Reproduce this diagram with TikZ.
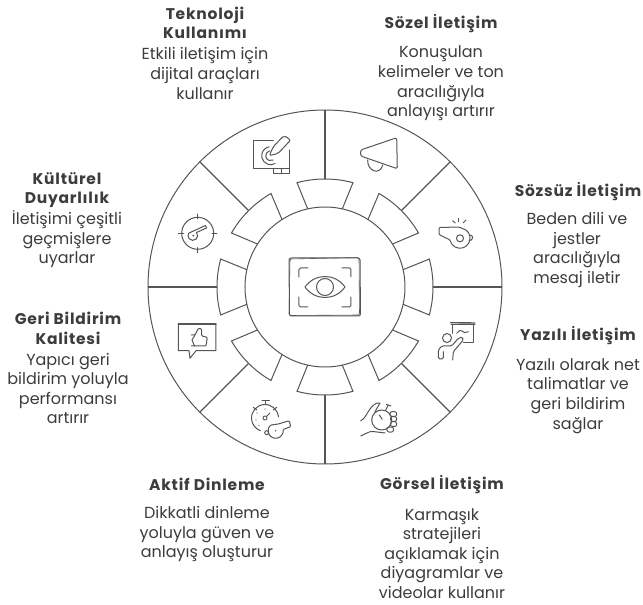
\documentclass[tikz,border=0pt]{standalone}
\usepackage{fontspec}
\usetikzlibrary{calc}
\setmainfont{Poppins}
\newfontfamily\headfont[LetterSpace=5,BoldFont={Poppins Bold}]{Poppins}
\definecolor{inkline}{HTML}{555555}
\definecolor{inktext}{HTML}{3C3C3C}

\begin{document}
\begin{tikzpicture}[x=1pt,y=1pt]
            \tikzset{heading/.style = {align=center,yshift=-1.5pt,text=inktext,font=\headfont\fontsize{15.5}{19.5}\selectfont\bfseries}}
            \tikzset{body/.style = {align=center,yshift=-1.5pt,text=inktext,font=\fontsize{16}{19.6}\selectfont}}
            \tikzset{ring/.style = {draw=inkline,line width=1pt}}
            \tikzset{edge/.style = {draw=inkline,line width=1.1pt}}
            \tikzset{icon/.style = {draw=inkline,line width=1pt,line cap=round,line join=round}}
            \useasboundingbox (-325,-318) rectangle (318,287);

            \node[heading] (toolshead) at (-120,265.5) {Teknoloji\\Kullanımı};
            \node[body] (toolsbody) at (-120,215) {Etkili iletişim için\\dijital araçları\\kullanır};
            \node[heading] (verbalhead) at (116,265) {Sözel İletişim};
            \node[body] (verbalbody) at (116,205) {Konuşulan\\kelimeler ve ton\\aracılığıyla\\anlayışı artırır};
            \node[heading] (nonverbalhead) at (253,97) {Sözsüz İletişim};
            \node[body] (nonverbalbody) at (252,38.5) {Beden dili ve\\jestler\\aracılığıyla\\mesaj iletir};
            \node[heading] (writtenhead) at (253,-47) {Yazılı İletişim};
            \node[body] (writtenbody) at (253,-107.5) {Yazılı olarak net\\talimatlar ve\\geri bildirim\\sağlar};
            \node[heading] (visualhead) at (117,-196) {Görsel İletişim};
            \node[body] (visualbody) at (117,-265) {Karmaşık\\stratejileri\\açıklamak için\\diyagramlar ve\\videolar kullanır};
            \node[heading] (activehead) at (-118,-196) {Aktif Dinleme};
            \node[body] (activebody) at (-118,-245.5) {Dikkatli dinleme\\yoluyla güven ve\\anlayış oluşturur};
            \node[heading] (feedbackhead) at (-257,-40) {Geri Bildirim\\Kalitesi};
            \node[body] (feedbackbody) at (-257,-100) {Yapıcı geri\\bildirim yoluyla\\performansı\\artırır};
            \node[heading] (culturehead) at (-258,98.5) {Kültürel\\Duyarlılık};
            \node[body] (culturebody) at (-258,49) {İletişimi çeşitli\\geçmişlere\\uyarlar};

            % wheel
            \draw[ring] (0,0) circle (177);
            \draw[ring] (0,0) circle (80);

            \coordinate (top1) at (90:108);   \coordinate (top2) at (90:177);
            \coordinate (upr1) at (45:108);   \coordinate (upr2) at (45:177);
            \coordinate (rgt1) at (0:108);    \coordinate (rgt2) at (0:177);
            \coordinate (lwr1) at (-45:108);  \coordinate (lwr2) at (-45:177);
            \coordinate (bot1) at (-90:108);  \coordinate (bot2) at (-90:177);
            \coordinate (lwl1) at (-135:108); \coordinate (lwl2) at (-135:177);
            \coordinate (lft1) at (180:108);  \coordinate (lft2) at (180:177);
            \coordinate (upl1) at (135:108);  \coordinate (upl2) at (135:177);

            \draw[edge] (top1) to (top2);
            \draw[edge] (upr1) to (upr2);
            \draw[edge] (rgt1) to (rgt2);
            \draw[edge] (lwr1) to (lwr2);
            \draw[edge] (bot1) to (bot2);
            \draw[edge] (lwl1) to (lwl2);
            \draw[edge] (lft1) to (lft2);
            \draw[edge] (upl1) to (upl2);

            \draw[ring] (77.5:80) -- (75:108) arc (75:105:108) -- (102.5:80);
            \draw[ring] (32.5:80) -- (30:108) arc (30:60:108) -- (57.5:80);
            \draw[ring] (-12.5:80) -- (-15:108) arc (-15:15:108) -- (12.5:80);
            \draw[ring] (-57.5:80) -- (-60:108) arc (-60:-30:108) -- (-32.5:80);
            \draw[ring] (-102.5:80) -- (-105:108) arc (-105:-75:108) -- (-77.5:80);
            \draw[ring] (-147.5:80) -- (-150:108) arc (-150:-120:108) -- (-122.5:80);
            \draw[ring] (167.5:80) -- (165:108) arc (165:195:108) -- (192.5:80);
            \draw[ring] (122.5:80) -- (120:108) arc (120:150:108) -- (147.5:80);

            % eye in the middle
            \draw[icon,rounded corners=2pt] (-36,29) -- (35,29) -- (35.5,-29) -- (-35.5,-29) -- cycle;
            \draw[icon,rounded corners=2pt,line width=.6pt] (-35,28) -- (34,29.5) -- (34.5,-28) -- (-36,-28.5) -- cycle;
            \draw[icon] (-20,0) .. controls (-10,14) and (10,14) .. (20,0) .. controls (10,-14) and (-10,-14) .. (-20,0) -- cycle;
            \draw[icon] (0,0) circle (8.5);
            \draw[icon,rounded corners=1.5pt] (-26,10) -- (-26,19) -- (-17,19);
            \draw[icon,rounded corners=1.5pt] (17,19) -- (26,19) -- (26,10);
            \draw[icon,rounded corners=1.5pt] (-26,-10) -- (-26,-20) -- (-17,-20);
            \draw[icon,rounded corners=1.5pt] (17,-20) -- (26,-20) -- (26,-10);

            % pencil on tablet
            \draw[icon] (-51.7,146.3) -- (-71.7,146.3) -- (-71.7,118.7) -- (-35.7,118.7) -- (-35.7,137);
            \draw[icon] (-51.7,118.7) -- (-51.7,113.3) -- (-35.7,113.3) -- (-35.7,118.7);
            \draw[icon] (-43.5,118.7) -- (-43.5,113.3);
            \draw[icon,rounded corners=2pt] (-55.7,131.3) -- (-51.7,140.3) -- (-41,151.5) -- (-34.3,147) -- (-46.7,133.7) -- cycle;
            \draw[icon] ($(-54.3,131.3)+(100:9)$) arc (100:300:9);
            \draw[icon] ($(-54.3,131.3)+(100:5)$) arc (100:300:5);

            % megaphone
            \draw[icon,rounded corners=1.5pt] (35.7,137) -- (71.7,149.3) -- (72.3,118.3) -- (35.7,131) -- cycle;
            \draw[icon] (42.7,127) .. controls (42,116) and (55,111) .. (57.7,122);

            % whistle
            \draw[icon,rounded corners=1pt] (114,59.5) -- (134,60) -- (140,57.4) arc (60:-170:10) -- (114,52.5) -- cycle;
            \draw[icon] (135,48.7) circle (3.5);
            \draw[icon] (145,52) arc (90:-110:2.7);
            \draw[icon] (127.7,66.3) -- (130.3,64);
            \draw[icon] (133.7,68.7) -- (133.7,65.3);
            \draw[icon] (141,67) -- (138.3,64.3);

            % presenter
            \draw[icon,line width=1.4pt] (125.7,-35.7) -- (150,-36);
            \draw[icon] (126,-38) -- (150,-38);
            \draw[icon] (127.7,-38) -- (127.7,-46.3);
            \draw[icon] (148.3,-38) -- (148.3,-55.3) -- (138.3,-55.3);
            \draw[icon] (131.7,-46.3) .. controls (134,-44) and (136,-42) .. (137,-44) .. controls (138,-46) and (141,-46) .. (143.3,-44.7);
            \draw[icon] (122,-51) circle (4.5);
            \draw[icon,rounded corners=1.5pt] (127.7,-73) -- (128.3,-64.7) -- (138.3,-53) -- (137.7,-50) -- (133.3,-51.3) -- (126.7,-59) -- (116.7,-59) -- (113.3,-63) -- (113.3,-72) -- (118.3,-72) -- (118.3,-64.7);

            % hand holding watch
            \draw[icon] (56.7,-133) circle (10);
            \draw[icon] (54.3,-128) -- (57.3,-132.3);
            \draw[icon] (63.3,-118) -- (60.5,-123.5);
            \draw[icon] (61.5,-117.5) -- (66,-119);
            \draw[icon,rounded corners=2pt] (65,-124.7) rectangle (71.7,-129.4);
            \draw[icon,rounded corners=2pt] (65.5,-129.7) rectangle (71.7,-134.4);
            \draw[icon,rounded corners=2pt] (65.5,-134.7) rectangle (71.7,-139.4);
            \draw[icon,rounded corners=2pt] (62,-140) rectangle (68.5,-145);
            \draw[icon] (35.7,-133.7) .. controls (42,-131) and (43,-120) .. (52,-116) -- (55,-116) -- (50,-124.7);
            \draw[icon] (35.7,-149) .. controls (42,-146) and (45,-144) .. (48,-144.5) -- (60,-146);

            % stopwatch and whistle
            \draw[icon] ($(-60,-131)+(5:13.5)$) arc (5:250:13.5);
            \draw[icon] (-60,-131) circle (2);
            \draw[icon] (-58.6,-129.6) -- (-55,-126);
            \draw[icon] (-59.3,-114) -- (-59.3,-117.5);
            \draw[icon] (-63,-113.5) -- (-55.5,-113.5);
            \draw[icon] (-71.7,-120.3) -- (-68.3,-123);
            \draw[icon] (-48.3,-120.3) -- (-51.7,-123);
            \fill[inkline] (-68,-126) circle (.6) (-69,-133) circle (.6) (-66,-138.5) circle (.6) (-60,-122) circle (.6);
            \draw[icon,rounded corners=1pt] (-46.7,-137) -- (-35.7,-133.7) -- (-34.3,-139.7) -- (-42,-142.5) arc (10:-230:7.5) -- cycle;
            \fill[inkline] (-49.3,-143.7) circle (.8);
            \draw[icon] (-58.3,-145.7) circle (2);

            % thumb in speech box
            \draw[icon,line width=1.3pt] (-146.7,-37) -- (-109,-37);
            \draw[icon] (-146.7,-37) -- (-146.7,-63.7) -- (-136,-63.7) -- (-135,-71.3) -- (-129,-63.7) -- (-109,-63.7) -- (-109,-37);
            \draw[icon,rounded corners=1pt] (-133.7,-59) -- (-119,-59) -- (-117.7,-50.3) -- (-123.3,-49) -- (-123.3,-42) -- (-126.7,-41.3) -- (-130,-48) -- (-133.7,-48);
            \draw[icon] (-130,-48) -- (-133,-53) -- (-130.5,-59);

            % target with key
            \draw[icon] (-127.3,53.7) circle (16);
            \draw[icon] (-127.3,68) -- (-127.3,73);
            \draw[icon] (-127.3,39.4) -- (-127.3,34.4);
            \draw[icon] (-141.6,53.7) -- (-146.6,53.7);
            \draw[icon] (-113,53.7) -- (-108,53.7);
            \draw[icon] (-128.5,54.5) arc (40:-210:4.8) -- (-119.5,61.5) -- (-118.5,59) -- cycle;
            \fill[inkline] (-131.7,51.3) circle (1);
\end{tikzpicture}
\end{document}
